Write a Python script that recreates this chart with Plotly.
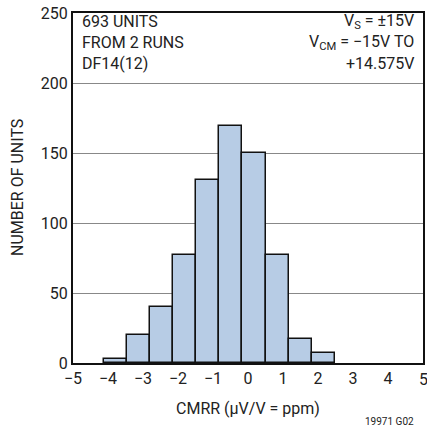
import plotly.graph_objects as go

# Data
bin_centers = [-3.79, -3.13, -2.47, -1.81, -1.15, -0.49, 0.17, 0.83, 1.49, 2.15]
bin_width = 0.66
counts = [3, 20, 40, 77, 131, 169, 150, 77, 17, 7]
x_ticks = [-5, -4, -3, -2, -1, 0, 1, 2, 3, 4, 5]
y_ticks = [0, 50, 100, 150, 200, 250]

FONT = "Liberation Sans Narrow, Arial Narrow, Roboto, sans-serif"

fig = go.Figure()
fig.add_trace(go.Bar(
    x=bin_centers, y=counts, width=[bin_width] * len(counts),
    marker=dict(color="#b7cce5", line=dict(color="#111111", width=1.5)),
    showlegend=False,
))

fig.update_layout(
    width=427, height=433,
    margin=dict(l=73, r=2, t=13, b=70),
    paper_bgcolor="white", plot_bgcolor="white",
    font=dict(family=FONT, size=16, color="#222222"),
    xaxis=dict(range=[-5, 5], tickvals=x_ticks, showgrid=False, zeroline=False,
               showline=True, linecolor="#111111", linewidth=2, mirror=True,
               ticks="", tickfont=dict(size=16)),
    yaxis=dict(range=[0, 250], tickvals=y_ticks, showgrid=True, gridcolor="#888888",
               gridwidth=1.2, zeroline=False, showline=True, linecolor="#111111",
               linewidth=2, mirror=True, ticks="", tickfont=dict(size=16)),
    bargap=0,
)

def ann(text, x, y, xanchor="center", yanchor="middle", size=16, textangle=0,
        xref="paper"):
    fig.add_annotation(text=text, x=x, y=y, xref=xref, yref="paper",
                       xanchor=xanchor, yanchor=yanchor, showarrow=False,
                       textangle=textangle, font=dict(family=FONT, size=size, color="#222222"))

# Left text block
ann("693 UNITS", 0.02, 0.977, xanchor="left")
ann("FROM 2 RUNS", 0.02, 0.917, xanchor="left")
ann("DF14(12)", 0.02, 0.857, xanchor="left")
# Right text block
ann("V<sub>S</sub> = ±15V", 0.98, 0.975, xanchor="right")
ann("V<sub>CM</sub> = −15V TO", 0.98, 0.915, xanchor="right")
ann("+14.575V", 0.98, 0.857, xanchor="right")

# Last x tick label (clipped at the page edge in the reference)
ann(str(x_ticks[-1]), x_ticks[-1], -0.047, xref="x")

# Axis titles
ann("CMRR (µV/V = ppm)", 0.5, -0.131)
ann("NUMBER OF UNITS", -0.16, 0.5, textangle=-90)
ann("19971 G02", 0.98, -0.168, xanchor="right", size=10)

fig.write_html("out.html", config={"displayModeBar": False},
               post_script="document.body.style.margin='0';document.body.style.overflow='hidden';")
